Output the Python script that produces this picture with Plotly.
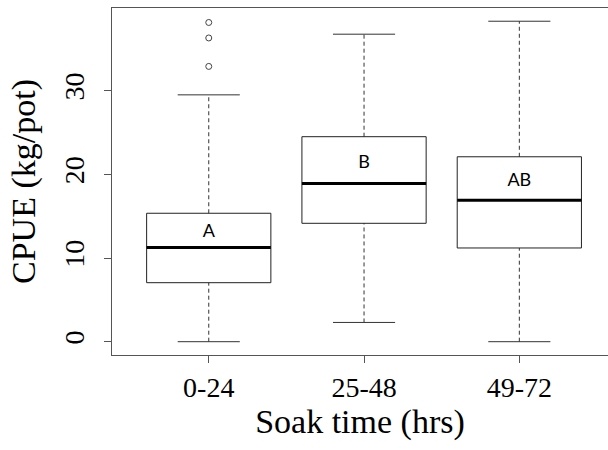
import plotly.graph_objects as go

# Catch per unit effort by soak-time class (five-number summaries + outliers)
categories = ["0-24", "25-48", "49-72"]
lower_whisker = [0.0, 2.3, 0.0]
q1 = [7.05, 14.15, 11.2]
median = [11.25, 18.9, 16.9]
q3 = [15.35, 24.5, 22.1]
upper_whisker = [29.5, 36.75, 38.3]
outliers_x = ["0-24", "0-24", "0-24"]
outliers_y = [32.9, 36.3, 38.15]
letters = ["A", "B", "AB"]
letter_y = [13.1, 21.3, 19.1]

pos = {c: i + 1 for i, c in enumerate(categories)}
HALF = 0.4      # half box width (category units)
CAP = 0.2       # half whisker-cap width

box_x, box_y = [], []
med_x, med_y = [], []
wh_x, wh_y = [], []
cap_x, cap_y = [], []
for c, lo, a, m, b, hi in zip(categories, lower_whisker, q1, median, q3, upper_whisker):
    p = pos[c]
    box_x += [p - HALF, p + HALF, p + HALF, p - HALF, p - HALF, None]
    box_y += [a, a, b, b, a, None]
    med_x += [p - HALF, p + HALF, None]
    med_y += [m, m, None]
    wh_x += [p, p, None, p, p, None]
    wh_y += [b, hi, None, lo, a, None]
    cap_x += [p - CAP, p + CAP, None, p - CAP, p + CAP, None]
    cap_y += [hi, hi, None, lo, lo, None]

fig = go.Figure()
fig.add_trace(go.Scatter(x=wh_x, y=wh_y, mode="lines",
                         line=dict(color="#333333", width=1, dash="4px,3px"),
                         hoverinfo="skip"))
fig.add_trace(go.Scatter(x=cap_x, y=cap_y, mode="lines",
                         line=dict(color="#333333", width=1), hoverinfo="skip"))
fig.add_trace(go.Scatter(x=box_x, y=box_y, mode="lines",
                         line=dict(color="#222222", width=1), hoverinfo="skip"))
fig.add_trace(go.Scatter(x=med_x, y=med_y, mode="lines",
                         line=dict(color="black", width=3), hoverinfo="skip"))
fig.add_trace(go.Scatter(x=[pos[c] for c in outliers_x], y=outliers_y, mode="markers",
                         marker=dict(symbol="circle-open", size=6, color="#444444",
                                     line=dict(color="#444444", width=1))))
fig.add_trace(go.Scatter(x=[pos[c] for c in categories], y=letter_y, mode="text",
                         text=letters,
                         textfont=dict(family="Lato", size=18, color="black")))

serif = "Liberation Serif"
fig.update_layout(
    width=608, height=450,
    margin=dict(l=112, r=0, t=8, b=95),
    paper_bgcolor="white", plot_bgcolor="white",
    showlegend=False,
    xaxis=dict(
        range=[0.377, 3.571],
        tickvals=[pos[c] for c in categories], ticktext=categories,
        ticks="outside", ticklen=7, tickcolor="#555555",
        showline=True, mirror=True, linecolor="#555555", linewidth=1,
        showgrid=False, zeroline=False,
        tickfont=dict(family=serif, size=28, color="black"),
        title=dict(text="Soak time (hrs)", standoff=6,
                   font=dict(family=serif, size=34, color="black")),
    ),
    yaxis=dict(
        range=[-1.59, 39.88],
        tickvals=[0, 10, 20, 30], tickangle=-90,
        ticks="outside", ticklen=7, tickcolor="#555555",
        ticklabelstandoff=9,
        showline=True, linecolor="#555555", linewidth=1,
        showgrid=False, zeroline=False,
        tickfont=dict(family=serif, size=28, color="black"),
        title=dict(text="CPUE (kg/pot)", standoff=12,
                   font=dict(family=serif, size=34, color="black")),
    ),
)

fig.write_html("out.html")
